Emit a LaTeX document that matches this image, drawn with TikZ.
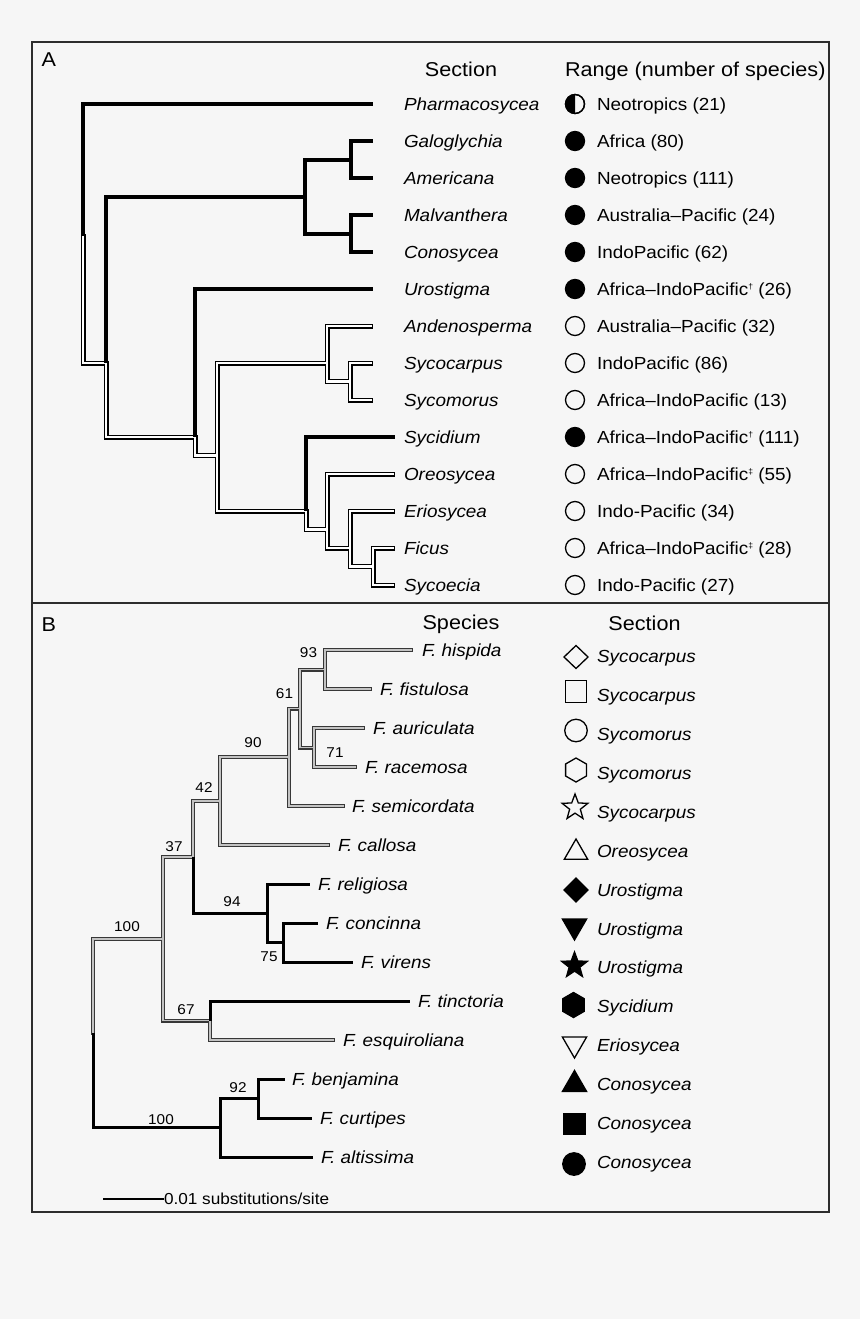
\documentclass[tikz,border=0pt]{standalone}
\usepackage{fontspec}
\setmainfont{Liberation Sans}[FakeStretch=1.08]
\usetikzlibrary{shapes.geometric}
\definecolor{bg}{RGB}{246,246,246}
\definecolor{frame}{RGB}{45,45,45}
\definecolor{bout}{RGB}{55,55,55}
\definecolor{bin}{RGB}{195,195,195}

\newcommand\Adbl{%
  \draw[dd] (aR) |- (aN2);
  \draw[dd] (aN2) |- (aN4);
  \draw[dd] (aN4) |- (aN5);
  \draw[dd] (aN5) |- (aN6);
  \draw[dd] (aN5) |- (aN7);
  \draw[dd] (aN6) |- (tAnde);
  \draw[dd] (aN6) |- (aSS);
  \draw[dd] (aSS) |- (tSyca);
  \draw[dd] (aSS) |- (tSycm);
  \draw[dd] (aN7) |- (aN8);
  \draw[dd] (aN8) |- (tOreo);
  \draw[dd] (aN8) |- (aN9);
  \draw[dd] (aN9) |- (tErio);
  \draw[dd] (aN9) |- (aFS);
  \draw[dd] (aFS) |- (tFicu);
  \draw[dd] (aFS) |- (tSycoe);
}
\newcommand\Bdbl{%
  \draw[dd] (bR) |- (bU);
  \draw[dd] (bU) |- (b37);
  \draw[dd] (bU) |- (b67);
  \draw[dd] (b37) |- (b42);
  \draw[dd] (b42) |- (b90);
  \draw[dd] (b42) |- (tcall);
  \draw[dd] (b90) |- (b61);
  \draw[dd] (b90) |- (tsemi);
  \draw[dd] (b61) |- (b93);
  \draw[dd] (b61) |- (b71);
  \draw[dd] (b93) |- (thisp);
  \draw[dd] (b93) |- (tfist);
  \draw[dd] (b71) |- (tauri);
  \draw[dd] (b71) |- (trace);
  \draw[dd] (b67) |- (tesqu);
}

\begin{document}
\begin{tikzpicture}[x=1pt,y=-1pt,
  body/.style={inner sep=0pt, outer sep=0pt, anchor=west, font=\fontsize{17.5}{20}\selectfont, text height=12.5pt, text depth=0pt},
  ital/.style={body, font=\fontsize{17.5}{20}\selectfont\itshape},
  head/.style={inner sep=0pt, outer sep=0pt, font=\fontsize{20}{24}\selectfont, text height=14.3pt, text depth=0pt},
  boot/.style={inner sep=0pt, outer sep=0pt, font=\fontsize{14.2}{16}\selectfont, text height=10.2pt, text depth=0pt},
  thickA/.style={line width=4pt, line cap=butt, line join=miter, black},
  thickB/.style={line width=3pt, line cap=butt, line join=miter, black},
  framebox/.style={line width=2pt, frame},
  sym/.style={draw=black, line width=1.3pt, inner sep=0pt, outer sep=0pt},
  opencirc/.style={sym, circle, minimum size=19pt},
  fullcirc/.style={sym, circle, minimum size=19pt, fill=black},
  halfcirc/.style={sym, circle, minimum size=19pt},
]
\fill[bg] (0,0) rectangle (860,1319);
\useasboundingbox (0,0) rectangle (860,1319);

% frames
\draw[framebox] (32,42) rectangle (829,603);
\draw[framebox] (32,603) rectangle (829,1212);

% ---------------- Panel A ----------------
\node[head, anchor=west] (labA) at (41.5,59) {A};
\node[head] (hSecA) at (461,69) {Section};
\node[head, anchor=west] (hRange) at (565,69) {Range (number of species)};

\coordinate (aR) at (83,236);
\coordinate (aN2) at (106,363);
\coordinate (aN3) at (305,196.5);
\coordinate (aGA) at (351,159.5);
\coordinate (aMC) at (351,233.5);
\coordinate (aN4) at (195,437);
\coordinate (aN5) at (217,455.5);
\coordinate (aN6) at (327,363);
\coordinate (aSS) at (350,381.5);
\coordinate (aN7) at (306,511);
\coordinate (aN8) at (327,529.5);
\coordinate (aN9) at (350,548);
\coordinate (aFS) at (373,566.5);
% tips
\coordinate (tPhar) at (373,104);
\coordinate (tGalo) at (373,141);
\coordinate (tAmer) at (373,178);
\coordinate (tMalv) at (373,215);
\coordinate (tCono) at (373,252);
\coordinate (tUro) at (373,289);
\coordinate (tAnde) at (370.5,326);
\coordinate (tSyca) at (370.5,363);
\coordinate (tSycm) at (370.5,400);
\coordinate (tSycd) at (395,437);
\coordinate (tOreo) at (392.5,474);
\coordinate (tErio) at (392.5,511);
\coordinate (tFicu) at (392.5,548);
\coordinate (tSycoe) at (392.5,585);

% double (open state) branches
\tikzset{dd/.style={line width=5pt, black, line cap=rect, line join=miter}}
\Adbl
\tikzset{dd/.style={line width=2.2pt, white, line cap=rect, line join=miter}}
\Adbl
% thick (filled state) branches
\draw[thickA] (aR) |- (tPhar);
\draw[thickA] (aN2) |- (aN3);
\draw[thickA] (aN3) |- (aGA);
\draw[thickA] (aN3) |- (aMC);
\draw[thickA] (aGA) |- (tGalo);
\draw[thickA] (aGA) |- (tAmer);
\draw[thickA] (aMC) |- (tMalv);
\draw[thickA] (aMC) |- (tCono);
\draw[thickA] (aN4) |- (tUro);
\draw[thickA] (aN7) |- (tSycd);

% rows
\foreach \nm/\rg/\st [count=\i from 0] in {
  Pharmacosycea/Neotropics (21)/halfcirc,
  Galoglychia/Africa (80)/fullcirc,
  Americana/Neotropics (111)/fullcirc,
  Malvanthera/Australia–Pacific (24)/fullcirc,
  Conosycea/IndoPacific (62)/fullcirc,
  Urostigma/Africa–IndoPacific\raisebox{6pt}{\fontsize{8}{8}\selectfont †} (26)/fullcirc,
  Andenosperma/Australia–Pacific (32)/opencirc,
  Sycocarpus/IndoPacific (86)/opencirc,
  Sycomorus/Africa–IndoPacific (13)/opencirc,
  Sycidium/Africa–IndoPacific\raisebox{6pt}{\fontsize{8}{8}\selectfont †} (111)/fullcirc,
  Oreosycea/Africa–IndoPacific\raisebox{6pt}{\fontsize{8}{8}\selectfont ‡} (55)/opencirc,
  Eriosycea/Indo-Pacific (34)/opencirc,
  Ficus/Africa–IndoPacific\raisebox{6pt}{\fontsize{8}{8}\selectfont ‡} (28)/opencirc,
  Sycoecia/Indo-Pacific (27)/opencirc}{
  \node[ital] (aSec\i) at (404,104+37*\i) {\nm};
  \node[\st] (aSym\i) at (575,104+37*\i) {};
  \node[body] (aRng\i) at (597,104+37*\i) {\rg};
}
\fill[black] (aSym0.north) arc[start angle=90, end angle=270, radius=9.5pt] -- cycle;
\node[halfcirc] (aSymHalf) at (aSym0) {};

% ---------------- Panel B ----------------
\node[head, anchor=west] (labB) at (41.5,624) {B};
\node[head] (hSpec) at (461,622) {Species};
\node[head] (hSecB) at (644.5,623) {Section};

\coordinate (bR) at (93,1033.25);
\coordinate (bU) at (163,938.75);
\coordinate (bL) at (220,1127.75);
\coordinate (b37) at (193,857);
\coordinate (b67) at (210,1020.5);
\coordinate (b42) at (220,801);
\coordinate (b94) at (267,913.25);
\coordinate (b75) at (283,942.5);
\coordinate (b90) at (289,757);
\coordinate (b61) at (300,708.5);
\coordinate (b93) at (325,669.5);
\coordinate (b71) at (314,747.5);
\coordinate (b92) at (258,1098.5);
% tips
\coordinate (thisp) at (411,650);
\coordinate (tfist) at (370,689);
\coordinate (tauri) at (363,728);
\coordinate (trace) at (355,767);
\coordinate (tsemi) at (343,806);
\coordinate (tcall) at (328,845);
\coordinate (treli) at (310,884);
\coordinate (tconc) at (318,923);
\coordinate (tvire) at (353,962);
\coordinate (ttinc) at (410,1001);
\coordinate (tesqu) at (333,1040);
\coordinate (tbenj) at (285,1079);
\coordinate (tcurt) at (312,1118);
\coordinate (talti) at (313,1157);

\tikzset{dd/.style={line width=4pt, bout, line cap=rect, line join=miter}}
\Bdbl
\tikzset{dd/.style={line width=1.6pt, bin, line cap=rect, line join=miter}}
\Bdbl
\draw[thickB] (bR) |- (bL);
\draw[thickB] (b37) |- (b94);
\draw[thickB] (b94) |- (treli);
\draw[thickB] (b94) |- (b75);
\draw[thickB] (b75) |- (tconc);
\draw[thickB] (b75) |- (tvire);
\draw[thickB] (b67) |- (ttinc);
\draw[thickB] (bL) |- (b92);
\draw[thickB] (bL) |- (talti);
\draw[thickB] (b92) |- (tbenj);
\draw[thickB] (b92) |- (tcurt);

% species names
\node[ital] (sHisp) at (422,650) {F. hispida};
\node[ital] (sFist) at (380,689) {F. fistulosa};
\node[ital] (sAuri) at (373,728) {F. auriculata};
\node[ital] (sRace) at (365,767) {F. racemosa};
\node[ital] (sSemi) at (352,806) {F. semicordata};
\node[ital] (sCall) at (338,845) {F. callosa};
\node[ital] (sReli) at (318,884) {F. religiosa};
\node[ital] (sConc) at (326,923) {F. concinna};
\node[ital] (sVire) at (361,962) {F. virens};
\node[ital] (sTinc) at (418,1001) {F. tinctoria};
\node[ital] (sEsqu) at (343,1040) {F. esquiroliana};
\node[ital] (sBenj) at (292,1079) {F. benjamina};
\node[ital] (sCurt) at (320,1118) {F. curtipes};
\node[ital] (sAlti) at (321,1157) {F. altissima};

% bootstrap values
\node[boot] (v93) at (308.5,652.5) {93};
\node[boot] (v61) at (284.5,693.5) {61};
\node[boot] (v71) at (335,752) {71};
\node[boot] (v90) at (253,742) {90};
\node[boot] (v42) at (204,787) {42};
\node[boot] (v37) at (174,846) {37};
\node[boot] (v94) at (232,901) {94};
\node[boot] (v75) at (269,956) {75};
\node[boot] (v100a) at (127,926) {100};
\node[boot] (v67) at (186,1009) {67};
\node[boot] (v92) at (238,1087) {92};
\node[boot] (v100b) at (161,1119) {100};

% section symbols
\node[sym, diamond, minimum width=24pt, minimum height=23pt] (bs0) at (576,657) {};
\node[sym, rectangle, minimum size=21.5pt] (bs1) at (576,691.5) {};
\node[sym, circle, minimum size=22.5pt] (bs2) at (576,730.5) {};
\node[sym, regular polygon, regular polygon sides=6, minimum size=24pt, rotate=30] (bs3) at (576,770) {};
\node[sym, star, star points=5, star point ratio=2.4, minimum size=27pt] (bs4) at (575,807.5) {};
\node[sym, regular polygon, regular polygon sides=3, minimum size=27pt] (bs5) at (576,852.5) {};
\node[sym, diamond, minimum width=24pt, minimum height=24pt, fill=black] (bs6) at (576,890) {};
\node[sym, regular polygon, regular polygon sides=3, minimum size=28pt, rotate=180, fill=black] (bs7) at (574.5,926) {};
\node[sym, star, star points=5, star point ratio=2.4, minimum size=27pt, fill=black] (bs8) at (574.5,965.5) {};
\node[sym, regular polygon, regular polygon sides=6, minimum size=25pt, rotate=30, fill=black] (bs9) at (573.5,1005) {};
\node[sym, regular polygon, regular polygon sides=3, minimum size=28pt, rotate=180] (bs10) at (574.5,1044) {};
\node[sym, regular polygon, regular polygon sides=3, minimum size=28pt, fill=black] (bs11) at (574.5,1084.5) {};
\node[sym, rectangle, minimum size=21.5pt, fill=black] (bs12) at (574.5,1124) {};
\node[sym, circle, minimum size=22.5pt, fill=black] (bs13) at (574,1164) {};

\foreach \sc [count=\i from 0] in {Sycocarpus,Sycocarpus,Sycomorus,Sycomorus,Sycocarpus,Oreosycea,Urostigma,Urostigma,Urostigma,Sycidium,Eriosycea,Conosycea,Conosycea,Conosycea}{
  \node[ital] (bSec\i) at (597,656.5+38.9*\i) {\sc};
}

% scale bar
\node[inner sep=0pt, outer sep=0pt, anchor=west, font=\fontsize{15.9}{18}\selectfont, text height=11.4pt, text depth=0pt] (sbt) at (164,1199) {0.01 substitutions/site};
\coordinate (sb1) at (103,1199);
\draw[line width=2.5pt] (sb1) -- (sbt.west);
\end{tikzpicture}
\end{document}
